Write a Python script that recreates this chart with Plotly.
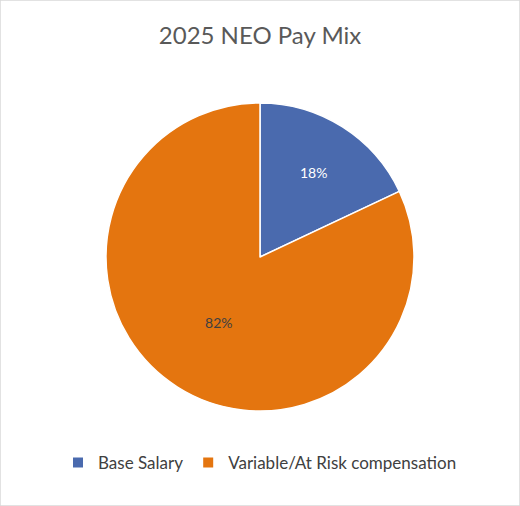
import plotly.graph_objects as go

labels = ["Base Salary", "Variable/At Risk compensation"]
values = [18, 82]
colors = ["#4A6AAE", "#E4750F"]
text_colors = ["#FFFFFF", "#404040"]

W, H = 520, 506
fig = go.Figure(go.Pie(
    labels=labels,
    values=values,
    sort=False,
    direction="clockwise",
    rotation=0,
    marker=dict(colors=colors, line=dict(color="#FFFFFF", width=1.5)),
    textinfo="percent",
    texttemplate="%{percent:.0%}",
    textposition="inside",
    insidetextorientation="horizontal",
    textfont=dict(family="Lato, Open Sans, sans-serif", size=14, color=text_colors),
    domain=dict(x=[106 / W, 414 / W], y=[1 - 411 / H, 1 - 103 / H]),
    hoverinfo="label+percent",
))

fig.update_layout(
    width=W, height=H,
    margin=dict(l=0, r=0, t=0, b=0),
    paper_bgcolor="#FFFFFF",
    plot_bgcolor="#FFFFFF",
    title=dict(text="2025 NEO Pay Mix", x=0.5, xanchor="center", y=1 - 36 / H, yanchor="middle",
               font=dict(family="Lato, Open Sans, sans-serif", size=24, color="#595959")),
    showlegend=True,
    legend=dict(orientation="h", x=0.5, xanchor="center", y=1 - 463 / H, yanchor="middle",
                font=dict(family="Lato, Open Sans, sans-serif", size=17, color="#404040"),
                itemsizing="constant", traceorder="normal", itemwidth=30),
    shapes=[dict(type="rect", xref="paper", yref="paper", x0=0, y0=0, x1=1, y1=1,
                 line=dict(color="#D9D9D9", width=1.5), fillcolor="rgba(0,0,0,0)")],
)

fig.write_html("out.html", config={"displayModeBar": False},
               post_script="document.body.style.margin='0';document.body.style.overflow='hidden';")
